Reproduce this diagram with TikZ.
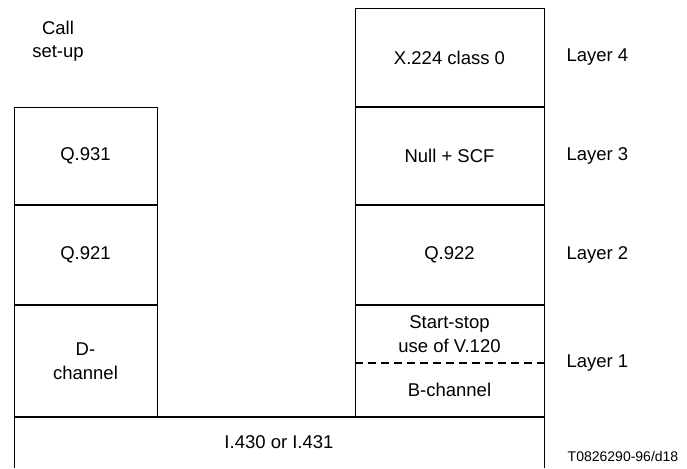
\documentclass[tikz,border=0pt]{standalone}
\usepackage{fontspec}
\setmainfont{Liberation Sans}
\usetikzlibrary{positioning}
\tikzset{
  cell/.style={inner sep=0pt,outer sep=0pt,align=center,minimum width=143pt},
  rcell/.style={cell,minimum width=189pt},
  edge/.style={line width=0.9pt},
  sep/.style={line width=2.2pt},
  dashsep/.style={line width=1.4pt,dash pattern=on 8pt off 5pt}
}
\begin{document}
\begin{tikzpicture}[x=1pt,y=1pt,font=\fontsize{18.5}{23.5}\selectfont]
  \useasboundingbox (0,0) rectangle (687,-468);
  % left stack
  \node[cell,minimum height=98pt] (q931) at (85.5,-156) {Q.931};
  \node[cell,minimum height=100pt,below=0pt of q931] (q921) {Q.921};
  \node[cell,minimum height=112pt,below=0pt of q921] (dch) {D-\\channel};
  % right stack
  \node[rcell,minimum height=99pt] (x224) at (449.5,-57.5) {X.224 class 0};
  \node[rcell,minimum height=98pt,below=0pt of x224] (null) {Null + SCF};
  \node[rcell,minimum height=100pt,below=0pt of null] (q922) {Q.922};
  \node[rcell,minimum height=58pt,below=0pt of q922] (start) {Start-stop\\use of V.120};
  \node[rcell,minimum height=54pt,below=0pt of start] (bch) {B-channel};
  % physical layer
  \node[cell,minimum width=530pt,minimum height=51pt,anchor=north west] (phy) at (dch.south west) {I.430 or I.431};
  \node[align=center] (call) at (58,-41) {Call\\set-up};
  % layer labels
  \node[right=19pt of x224] (l4) {Layer 4};
  \node[right=19pt of null] (l3) {Layer 3};
  \node[right=19pt of q922] (l2) {Layer 2};
  \node[anchor=west,xshift=19pt] (l1) at (start.south east) {Layer 1};
  \node[font=\fontsize{14}{16}\selectfont] (code) at (623,-456) {T0826290-96/d18};
  \draw[edge] (q931.north west) rectangle (dch.south east);
  \draw[edge] (x224.north west) rectangle (bch.south east);
  \foreach \c in {q931,q921,x224,null,q922}
    \draw[sep] (\c.south west) -- (\c.south east);
  \draw[dashsep] (start.south west) -- (start.south east);
  \draw[sep] (phy.north west) -- (phy.north east);
  \draw[edge] (phy.north west) -- (phy.south west);
  \draw[edge] (phy.north east) -- (phy.south east);
\end{tikzpicture}
\end{document}
